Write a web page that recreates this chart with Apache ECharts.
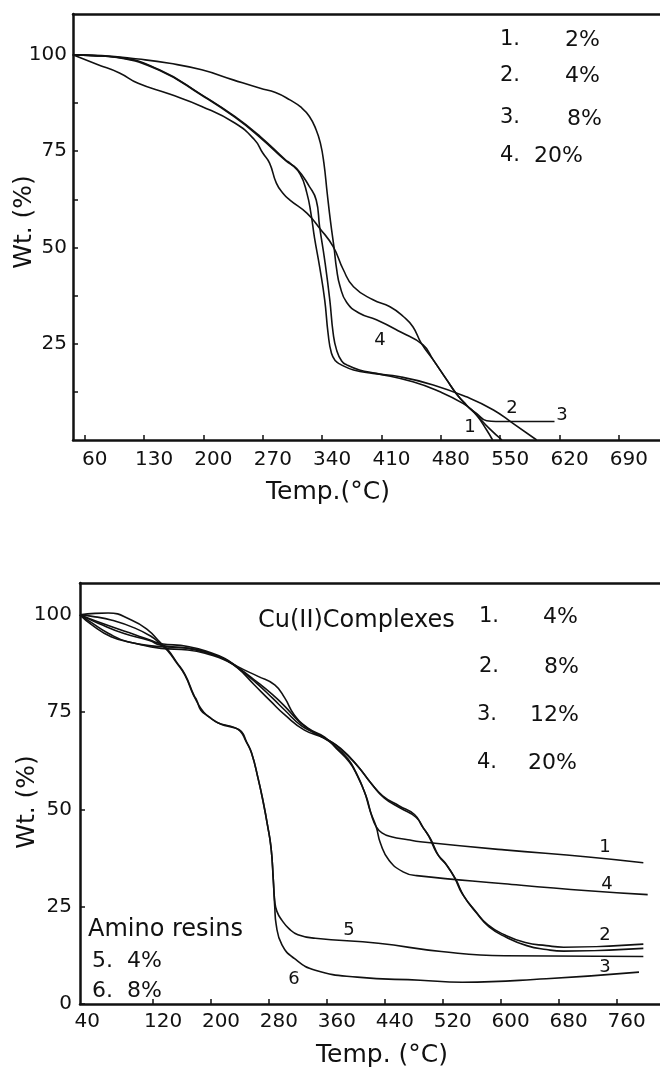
<!DOCTYPE html>
<html><head><meta charset="utf-8">
<script src="https://cdn.jsdelivr.net/npm/echarts@6/dist/echarts.min.js"></script>
<style>html,body{margin:0;padding:0;background:#fff}#c{width:660px;height:1070px}</style>
</head><body><div id="c"></div>
<script>
// ---- tick labels ----
const topXTicks = [60,130,200,270,340,410,480,550,620,690];
const topYLabels = [25,50,75,100];
const topYTicks = [12.5,25,37.5,50,62.5,75,87.5,100];
const botXLabels = [40,120,200,280,360,440,520,600,680,760];
const botXTicks = [120,200,280,360,440,520,600,680,760];
const botYLabels = [0,25,50,75,100];

// ---- upper figure: [Temp °C, Wt %] ----
const top1 = [[46,100],[80,99.8],[123,98.9],[160,97.8],[198,96.1],[235,93.5],[267,91.3],[285,90.2],[302,88.3],[315,86.4],[325,84],[333,80.5],[338,77],[342,72],[346,64],[350,56.5],[354,50],[357,44.5],[361,40],[369,35.7],[384,32.9],[404,31.2],[432,28.1],[459,24.7],[471,20.8],[487,15.6],[498,12.1],[510,9.1],[522,6.5],[534,2.6],[541,0]];
const top2 = [[46,100],[70,99.8],[98,99.4],[148,96.1],[198,89.6],[237,84],[267,78.8],[297,72.7],[302,71.9],[314,69],[322,64.1],[327,58.5],[331,52.5],[337,45],[343,36.4],[347,27.7],[351,22.5],[356,20.5],[361,19.7],[377,18.2],[400,17.3],[432,16.4],[471,14.3],[510,11.2],[542,7.8],[565,4.3],[593,0]];
const top3 = [[46,100],[70,99.8],[98,99.3],[148,96],[198,89.5],[237,83.8],[267,78.5],[297,72.5],[310,70.5],[325,65.8],[333,62.3],[337,55.4],[343,46.7],[349,36.4],[353,27.7],[357,23.4],[363,20.5],[369,19.5],[384,18.2],[404,17.3],[447,15.1],[479,12.5],[506,9.5],[522,6.9],[534,5],[545,4.8],[614,4.8]];
const top4 = [[46,100],[75,97.5],[101,95.3],[123,92.6],[160,89.8],[198,86.6],[237,82.3],[260,78],[270,74.5],[278,71.9],[286,66.7],[294,64],[302,62.3],[322,58.9],[337,55],[353,50.2],[365,44.2],[377,39.8],[400,36.4],[420,34.6],[436,32],[447,29.4],[457,25.1],[471,20.8],[487,15.6],[498,12.1],[510,9.1],[522,6.5],[537,3],[552,0]];

// ---- lower figure: [Temp °C, Wt %] ----
const bot1 = [[19,100],[62,97],[95,94.9],[122,93.1],[131,92.6],[168,91.9],[200,90.3],[219,88.8],[237,86.7],[265,84.2],[288,82],[302,78.6],[315,74.3],[334,70.9],[357,68.6],[373,65.7],[391,62.2],[402,58.7],[414,53.5],[422,48.3],[428,45.6],[436,44],[449,43],[472,42.2],[489,41.7],[605,39.6],[721,37.8],[797,36.3]];
const bot2 = [[19,100],[35,98],[58,95.3],[85,93.1],[127,91.9],[168,91.5],[200,90],[219,88.6],[237,86.5],[262,83],[285,79.5],[302,76.5],[322,72.5],[340,70],[360,68],[379,65.7],[402,61.3],[420,57],[437,53.5],[460,50.9],[481,48.7],[492,45.6],[501,43],[512,38.7],[524,36.1],[536,32.6],[547,28.3],[565,23.9],[582,20.4],[605,17.8],[634,15.8],[663,15],[687,14.6],[797,15.4]];
const bot3 = [[19,100],[35,97.5],[62,94.4],[95,92.7],[131,91.4],[168,91],[200,89.7],[219,88.4],[237,86.3],[260,82],[283,77.7],[302,74.3],[329,70.4],[357,68.3],[381,65.2],[404,60.8],[422,56.5],[439,53],[462,50.3],[483,48],[494,45],[503,42.5],[514,38.2],[526,35.5],[538,32],[549,27.8],[567,23.3],[584,19.8],[607,17.2],[636,15],[663,14],[687,13.6],[797,14.3]];
const bot4 = [[19,100],[45,97.8],[80,95.2],[115,93.4],[131,92.2],[168,91.4],[200,90],[219,88.6],[237,86.4],[262,82.6],[285,78.6],[302,75.5],[325,71.5],[348,69.2],[370,66.5],[389,63],[400,59.6],[412,54.5],[420,49.5],[428,45.6],[434,41.3],[446,36.9],[466,33.9],[484,33],[605,30.9],[721,29.1],[803,28.1]];
const bot5 = [[19,100],[40,100.4],[58,100.5],[90,98.7],[113,96.1],[129,93.1],[141,90.9],[152,88],[164,84.7],[176,79.5],[181,77.5],[190,75],[200,73.4],[214,71.9],[232,71],[242,70],[249,67.4],[256,64.5],[265,58],[272,52],[278,46],[283,40],[286,32],[288,26.5],[291,23.8],[298,21.5],[308,19.3],[320,17.8],[344,16.9],[431,15.6],[518,13.5],[605,12.4],[797,12.2]];
const bot6 = [[19,100],[40,99.5],[62,98.7],[95,96.6],[118,94.4],[129,92.7],[141,90.6],[152,87.8],[164,84.5],[176,79.3],[180,78.2],[186,75.5],[196,74],[210,72.2],[228,71.3],[240,70.2],[248,67.6],[256,64.5],[265,58],[272,52],[278,46],[283,40],[286,32],[288,25],[290,20.4],[298,15.2],[315,11.7],[344,8.7],[402,6.9],[489,6.1],[547,5.6],[663,6.5],[791,8.2]];

const FONT = 'DejaVu Sans';
const INK = '#111';

function xAxisMain(grid, min, max, labels, ticks, margin) {
  return {
    gridIndex: grid, type: 'value', min: min, max: max, position: 'bottom',
    axisLine: {onZero: false, lineStyle: {color: INK, width: 2.5}},
    axisTick: {show: true, inside: true, length: 5, customValues: ticks, lineStyle: {color: INK, width: 1.5}},
    axisLabel: {
      customValues: labels, margin: margin,
      formatter: function (v) { return (v === 40 ? '{f|' : '{n|') + v + '}'; },
      rich: {
        n: {fontSize: 20, fontFamily: FONT, color: INK, padding: [0, 0, 0, 20]},
        f: {fontSize: 20, fontFamily: FONT, color: INK, padding: [0, 16, 0, 0]}
      }
    },
    splitLine: {show: false}
  };
}
function xAxisTop(grid, min, max) {
  return {
    gridIndex: grid, type: 'value', min: min, max: max, position: 'top',
    axisLine: {onZero: false, lineStyle: {color: INK, width: 2.5}},
    axisTick: {show: false}, axisLabel: {show: false}, splitLine: {show: false}
  };
}
function yAxis(grid, max, labels, ticks, margin) {
  return {
    gridIndex: grid, type: 'value', min: 0, max: max,
    axisLine: {show: true, onZero: false, lineStyle: {color: INK, width: 2.5}},
    axisTick: {show: true, inside: true, length: 5, customValues: ticks, lineStyle: {color: INK, width: 1.5}},
    axisLabel: {customValues: labels, fontSize: 20, fontFamily: FONT, color: INK, margin: margin},
    splitLine: {show: false}
  };
}
function line(name, data, xi, yi) {
  return {
    name: name, type: 'line', data: data, xAxisIndex: xi, yAxisIndex: yi,
    showSymbol: false, smooth: 0.5,
    lineStyle: {color: INK, width: 1.6}, animation: false, silent: true
  };
}
function txt(s, x, y, size, align, rot) {
  const el = {type: 'text', x: x, y: y, style: {text: s, fontSize: size, fontFamily: FONT, fill: INK, align: align || 'left', verticalAlign: 'middle'}};
  if (rot) el.rotation = rot;
  return el;
}

const chart = echarts.init(document.getElementById('c'), null, {renderer: 'canvas'});
chart.setOption({
  backgroundColor: '#fff',
  animation: false,
  grid: [
    {left: 73, right: 0, top: 14, bottom: 630},
    {left: 80, right: 0, top: 583, bottom: 66}
  ],
  xAxis: [
    xAxisMain(0, 46.2, 738.4, topXTicks, topXTicks, 10),
    xAxisTop(0, 46.2, 738.4),
    xAxisMain(1, 19.1, 820, botXLabels, botXTicks, 8),
    xAxisTop(1, 19.1, 820)
  ],
  yAxis: [
    yAxis(0, 110.6, topYLabels, topYTicks, 6),
    yAxis(1, 108.2, botYLabels, botYLabels, 8)
  ],
  series: [
    line('1. 2%', top1, 0, 0), line('2. 4%', top2, 0, 0), line('3. 8%', top3, 0, 0), line('4. 20%', top4, 0, 0),
    line('Cu(II) 4%', bot1, 2, 1), line('Cu(II) 8%', bot2, 2, 1), line('Cu(II) 12%', bot3, 2, 1), line('Cu(II) 20%', bot4, 2, 1),
    line('Amino resin 4%', bot5, 2, 1), line('Amino resin 8%', bot6, 2, 1)
  ],
  graphic: [
    txt('Wt. (%)', 24, 222, 25, 'center', Math.PI / 2),
    txt('Temp.(°C)', 328, 492, 25, 'center'),
    txt('1.', 500, 40, 21), txt('2%', 600, 40, 22, 'right'),
    txt('2.', 500, 76, 21), txt('4%', 600, 76, 22, 'right'),
    txt('3.', 500, 118, 21), txt('8%', 602, 119, 22, 'right'),
    txt('4.', 500, 156, 21), txt('20%', 534, 156, 22),
    txt('4', 380, 340, 18, 'center'), txt('2', 512, 408, 18, 'center'),
    txt('3', 562, 415, 18, 'center'), txt('1', 470, 427, 18, 'center'),

    txt('Wt. (%)', 27, 802, 25, 'center', Math.PI / 2),
    txt('Temp. (°C)', 382, 1055, 25, 'center'),
    txt('Cu(II)Complexes', 258, 621, 24),
    txt('1.', 479, 617, 21), txt('4%', 578, 617, 22, 'right'),
    txt('2.', 479, 667, 21), txt('8%', 579, 667, 22, 'right'),
    txt('3.', 477, 715, 21), txt('12%', 579, 715, 22, 'right'),
    txt('4.', 477, 763, 21), txt('20%', 577, 763, 22, 'right'),
    txt('Amino resins', 88, 930, 24),
    txt('5.  4%', 92, 961, 22), txt('6.  8%', 92, 991, 22),
    txt('1', 605, 847, 18, 'center'), txt('4', 607, 884, 18, 'center'),
    txt('2', 605, 935, 18, 'center'), txt('3', 605, 967, 18, 'center'),
    txt('5', 349, 930, 18, 'center'), txt('6', 294, 979, 18, 'center')
  ]
});
</script>
</body></html>
